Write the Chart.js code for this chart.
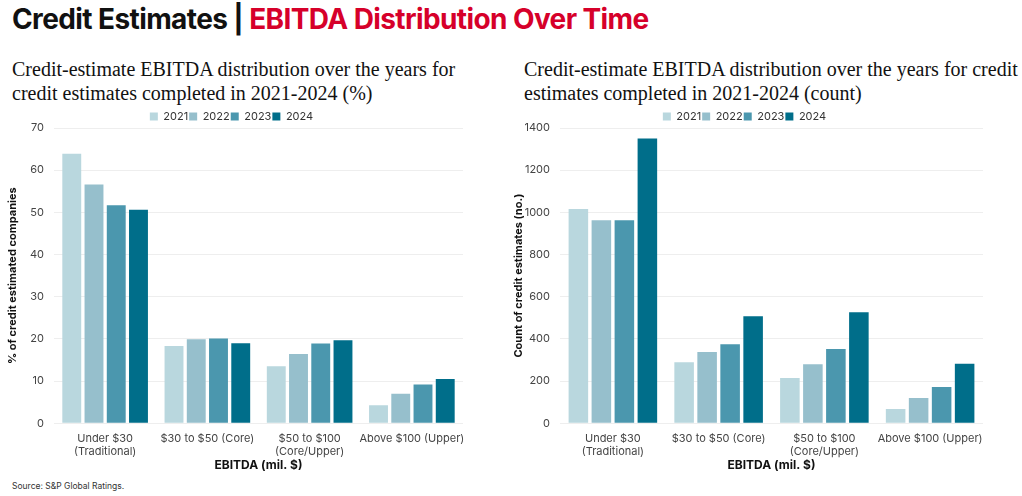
<!DOCTYPE html>
<html>
<head>
<meta charset="utf-8">
<script src="https://cdn.jsdelivr.net/npm/chart.js@4/dist/chart.umd.min.js"></script>
<style>
  body { margin: 0; background: #fff; width: 1022px; height: 496px; overflow: hidden; position: relative; font-family: Inter, "Liberation Sans", sans-serif; }
  .title { position: absolute; left: 12px; top: 2px; font-size: 28px; font-weight: 700; letter-spacing: -0.6px; color: #111; }
  .title span { color: #d6002a; }
  .sub { position: absolute; top: 57px; font-family: "Liberation Serif", "DejaVu Serif", serif; font-size: 20px; line-height: 24px; color: #111; }
  .src { position: absolute; left: 12px; top: 481px; font-size: 8.5px; color: #333; }
  .box { position: absolute; top: 110px; height: 367px; }
</style>
</head>
<body>
<div class="title">Credit Estimates | <span>EBITDA Distribution Over Time</span></div>
<div class="sub" style="left:12px">Credit-estimate EBITDA distribution over the years for<br>credit estimates completed in 2021-2024 (%)</div>
<div class="sub" style="left:524px">Credit-estimate EBITDA distribution over the years for credit<br>estimates completed in 2021-2024 (count)</div>
<div class="box" style="left:0px;width:470px"><canvas id="pct"></canvas></div>
<div class="box" style="left:506px;width:484px"><canvas id="cnt"></canvas></div>
<div class="src">Source: S&amp;P Global Ratings.</div>
<script>
var categories = [["Under $30", "(Traditional)"], "$30 to $50 (Core)", ["$50 to $100", "(Core/Upper)"], "Above $100 (Upper)"];
var years = ["2021", "2022", "2023", "2024"];
var colors = ["#b9d7de", "#96bfcc", "#4b97ae", "#006e8a"];

// share of credit-estimated companies (%)
var pct2021 = [63.9, 18.3, 13.5, 4.3];
var pct2022 = [56.6, 19.9, 16.4, 7.0];
var pct2023 = [51.7, 20.1, 18.9, 9.2];
var pct2024 = [50.6, 19.0, 19.7, 10.5];

// number of credit estimates
var cnt2021 = [1016, 290, 215, 68];
var cnt2022 = [963, 338, 280, 120];
var cnt2023 = [963, 375, 352, 172];
var cnt2024 = [1350, 508, 527, 282];

var tickFont = { family: "Inter, 'Liberation Sans', sans-serif", size: 11, lineHeight: 1.15 };

// pull the plot a bit closer to the legend
var tightLegend = {
    id: 'tightLegend',
    beforeInit: function (chart) {
        var fit = chart.legend.fit;
        chart.legend.fit = function () {
            fit.bind(chart.legend)();
            this.height -= 4;
        };
    }
};

function makeChart(id, series, yTitle, max, step) {
    new Chart(document.getElementById(id), {
        type: 'bar',
        data: {
            labels: categories,
            datasets: series.map(function (s, i) {
                return {
                    label: years[i],
                    data: s,
                    backgroundColor: colors[i],
                    borderWidth: 0,
                    categoryPercentage: 0.87,
                    barPercentage: 0.85
                };
            })
        },
        options: {
            responsive: true,
            maintainAspectRatio: false,
            animation: false,
            layout: { padding: { left: 0, right: 7, top: 0, bottom: 0 } },
            plugins: {
                legend: {
                    position: 'top',
                    labels: { boxWidth: 8, boxHeight: 8, padding: 1, color: '#333', font: { family: tickFont.family, size: 11 } }
                },
                tooltip: { enabled: false }
            },
            scales: {
                x: {
                    grid: { display: false },
                    border: { display: false },
                    ticks: { color: '#444', font: tickFont, maxRotation: 0, autoSkip: false, padding: 1 },
                    title: { display: true, text: 'EBITDA (mil. $)', color: '#111', font: { family: tickFont.family, size: 12, weight: 'bold' }, padding: { top: 0, bottom: 4 } }
                },
                y: {
                    min: 0, max: max,
                    afterFit: function (axis) { axis.width = 54; },
                    ticks: { stepSize: step, color: '#444', font: tickFont, padding: 10, callback: function (v) { return v; } },
                    grid: { color: '#eeeeee', drawTicks: false },
                    border: { display: false },
                    title: { display: true, text: yTitle, color: '#111', font: { family: tickFont.family, size: 11, weight: 'bold' }, padding: { top: 6, bottom: 4 } }
                }
            }
        },
        plugins: [tightLegend]
    });
}

makeChart('pct', [pct2021, pct2022, pct2023, pct2024], '% of credit estimated companies', 70, 10);
makeChart('cnt', [cnt2021, cnt2022, cnt2023, cnt2024], 'Count of credit estimates (no.)', 1400, 200);
</script>
</body>
</html>
